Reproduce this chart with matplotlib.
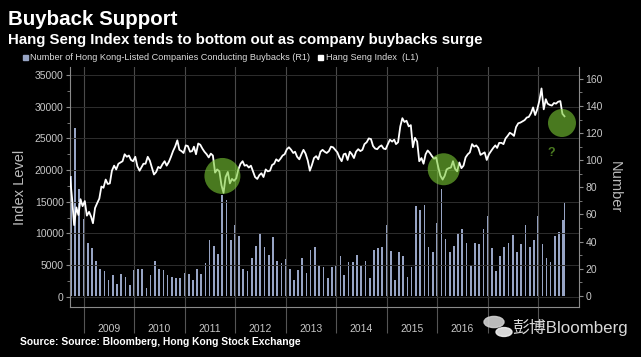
import matplotlib
matplotlib.use("Agg")
import matplotlib.pyplot as plt
import matplotlib.dates as mdates
from matplotlib.ticker import MultipleLocator, FuncFormatter
from matplotlib.patches import Rectangle, Circle
import pandas as pd

# Number of HK-listed companies conducting buybacks, monthly (Sep 2008 - Jun 2018) + partial Jul 2018
buybacks = [
    88, 124, 79, 57,                                      # 2008 Sep-Dec
    39, 35, 26, 20, 18, 11.5, 15, 9, 16, 14, 8, 19,       # 2009
    20, 20, 6, 15, 26, 20, 19, 15, 14, 13, 13, 17,        # 2010
    16, 11.5, 20, 16, 24, 41, 37, 31, 74, 71, 41, 52,     # 2011
    44, 20, 18, 28, 37, 46, 36, 30, 43, 26, 24, 27,       # 2012
    20, 11.5, 19, 28, 16.5, 34, 36, 23, 21, 13, 21, 23,   # 2013
    29, 15, 25, 25, 30, 22, 26, 13, 34, 35, 36, 52,       # 2014
    33, 11.5, 32, 29, 14, 21, 66, 63, 67, 36, 32, 54,     # 2015
    79, 42, 32, 37, 46, 49, 39, 23, 39, 38, 49, 59,       # 2016
    35, 18, 29, 36, 39, 45, 32, 38, 52, 36, 41, 59,       # 2017
    38, 28, 25, 44, 47, 56,                               # 2018 Jan-Jun
    69,                                                   # 2018 Jul (partial)
]
buyback_dates = list(pd.date_range("2008-09-30", "2018-06-30", freq="ME")) + [pd.Timestamp("2018-07-10")]

# Hang Seng Index, sampled twice a month (9th / 24th)
hsi = [
    18900, 15500, 11300, 14100, 12900, 15400, 14300,
    15100, 12800, 13400, 12600, 11600, 14000, 14800, 15500, 17400, 17200, 18500, 17800,
    17900, 19900, 20700, 20100, 21000, 21200, 21400, 22500, 22100, 22300, 21600, 21400,
    22100, 20600, 19900, 20500, 21000, 21000, 22100, 21500, 20400, 19300, 19700, 20500,
    20300, 20900, 21400, 20700, 21300, 22100, 23000, 23700, 24700, 23200, 23000, 22700,
    23900, 23800, 22900, 23000, 23700, 22500, 24200, 24000, 23400, 22900, 22500, 22000,
    22600, 22300, 19600, 20100, 19800, 17600, 16400, 18900, 19700, 17900, 18600, 18300,
    18700, 20100, 21000, 21400, 20700, 20800, 20400, 20700, 19800, 18900, 18600, 19200,
    19500, 18900, 20100, 19800, 19900, 20800, 21000, 21700, 21400, 21800, 22300, 22500,
    23300, 23600, 23200, 22700, 22900, 22100, 21700, 22500, 23200, 22600, 21500, 19900,
    20800, 21900, 22200, 21700, 22900, 23200, 22900, 22700, 23000, 23700, 23600, 23200,
    22800, 22000, 21400, 22500, 22600, 21600, 22900, 22500, 21900, 22900, 23300, 23000,
    23200, 24100, 24400, 25000, 24900, 23800, 23400, 23300, 23700, 23900, 23400, 23300,
    24100, 24800, 24500, 24800, 24100, 24400, 26900, 28200, 27600, 27800, 26900, 27100,
    23600, 25100, 24500, 21400, 21900, 21000, 22500, 23100, 22700, 22200, 21800, 22000,
    20400, 19100, 18500, 19100, 20100, 20300, 20400, 21400, 20200, 19800, 21200, 20300,
    20700, 22000, 22500, 22800, 24100, 23700, 23900, 23500, 22400, 22600, 22800, 21600,
    22500, 23000, 23500, 23900, 23500, 24300, 24300, 24100, 25000, 25400, 25900, 25700,
    25400, 26800, 27400, 27500, 27700, 27900, 28300, 28400, 29000, 29900, 28700, 29600,
    31000, 32900, 29600, 31200, 30500, 30300, 30200, 30600, 30500, 30800, 30900, 28900,
    28500,
]
hsi_dates = [pd.Timestamp("2008-09-24")]
for p in pd.period_range("2008-10", "2018-06", freq="M"):
    for d in (9, 24):
        hsi_dates.append(pd.Timestamp(p.year, p.month, d))
hsi_dates.append(pd.Timestamp("2018-07-09"))

# highlighted bottoms (green circles)
circle_dates = [pd.Timestamp("2011-10-01"), pd.Timestamp("2016-02-17"), pd.Timestamp("2018-06-21")]
circle_levels = [19070, 20130, 27440]
circle_radius_px = [18, 16, 14]

# year labels hidden behind the watermark in the original
last_labelled_year = 2016

bar_color = "#97a4c4"
tick_color = "#c8c8c8"
spine_color = "#8a8a8a"

fig = plt.figure(figsize=(6.41, 3.57), dpi=100, facecolor="black")
ax = fig.add_axes([70 / 641, 50 / 357, 509 / 641, 240 / 357])
ax2 = ax.twinx()

ax2.bar(mdates.date2num(buyback_dates), buybacks, width=12, color=bar_color, linewidth=0)
ax.plot(mdates.date2num(hsi_dates), hsi, color="white", lw=1.3, zorder=3)
ax.scatter(mdates.date2num(circle_dates), circle_levels,
           s=[(2 * r * 0.72) ** 2 for r in circle_radius_px],
           color="#7bcb35", alpha=0.6, linewidths=0, zorder=4)
ax.text(mdates.date2num(pd.Timestamp("2018-04-08")), 22700, "?", color="#4a7a20",
        fontsize=9, fontweight="bold", ha="center", va="center", family="Liberation Sans")

ax.set_zorder(ax2.get_zorder() + 1)
ax.patch.set_visible(False)

ax.set_xlim(mdates.date2num(pd.Timestamp("2008-09-24")), mdates.date2num(pd.Timestamp("2018-10-22")))
ax.set_ylim(-1640, 36290)
ax2.set_ylim(-8.3, 168.8)

# axes styling
for a in (ax, ax2):
    for s in a.spines.values():
        s.set_color(spine_color)
        s.set_linewidth(0.8)
    a.spines["top"].set_visible(False)
ax.spines["right"].set_visible(False)
ax2.spines["left"].set_visible(False)
ax2.spines["bottom"].set_visible(False)

ax.yaxis.set_major_locator(MultipleLocator(5000))
ax.yaxis.set_minor_locator(MultipleLocator(2500))
ax2.yaxis.set_major_locator(MultipleLocator(20))
ax2.yaxis.set_minor_locator(MultipleLocator(10))
for a in (ax, ax2):
    a.tick_params(axis="y", which="major", colors=spine_color, labelcolor=tick_color,
                  labelsize=7.5, length=3, width=0.8, pad=1.5)
    a.tick_params(axis="y", which="minor", colors=spine_color, length=2, width=0.6)
    for lbl in a.get_yticklabels():
        lbl.set_family("Liberation Sans")


def year_label(x, pos):
    year = mdates.num2date(x).year
    return str(year) if year <= last_labelled_year else ""


ax.xaxis.set_major_locator(mdates.YearLocator())
ax.xaxis.set_major_formatter(plt.NullFormatter())
ax.xaxis.set_minor_locator(mdates.MonthLocator(bymonth=7))
ax.xaxis.set_minor_formatter(FuncFormatter(year_label))
ax.tick_params(axis="x", which="major", colors="#555555", length=19, width=0.8)
ax.tick_params(axis="x", which="minor", length=0, labelcolor=tick_color, labelsize=7.5, pad=12)
for lbl in ax.get_xticklabels(minor=True):
    lbl.set_family("Liberation Sans")

ax.grid(axis="x", which="major", color="#4a4a4a", lw=0.8)
ax.grid(axis="y", which="major", color="#2e2e2e", lw=0.7)

ax.set_ylabel("Index Level", color="#bbbbbb", fontsize=10.5, family="Liberation Sans", labelpad=6)
ax2.set_ylabel("Number", color="#bbbbbb", fontsize=10.5, family="Liberation Sans",
               rotation=270, labelpad=14)

# titles
fig.text(8 / 641, 1 - 25 / 357, "Buyback Support", color="white", fontsize=14.8,
         fontweight="bold", family="Liberation Sans", va="baseline")
fig.text(8 / 641, 1 - 44 / 357, "Hang Seng Index tends to bottom out as company buybacks surge",
         color="white", fontsize=10.8, fontweight="bold", family="Liberation Sans", va="baseline")

# legend
fig.patches.append(Rectangle((23 / 641, 1 - 60 / 357), 5 / 641, 5 / 357, transform=fig.transFigure,
                             color=bar_color, figure=fig))
fig.text(30 / 641, 1 - 57.5 / 357, "Number of Hong Kong-Listed Companies Conducting Buybacks (R1)",
         color="#dddddd", fontsize=6.6, family="Liberation Sans", va="center")
fig.patches.append(Rectangle((318 / 641, 1 - 60 / 357), 5 / 641, 5 / 357, transform=fig.transFigure,
                             color="white", figure=fig))
fig.text(326 / 641, 1 - 57.5 / 357, "Hang Seng Index  (L1)",
         color="#dddddd", fontsize=6.6, family="Liberation Sans", va="center")

# source
fig.text(20 / 641, 1 - 345 / 357, "Source: Source: Bloomberg, Hong Kong Stock Exchange",
         color="white", fontsize=7.4, fontweight="bold", family="Liberation Sans", va="baseline")

# watermark (chat-bubble icon + text)
fig.patches.append(Circle((494 / 641, 1 - 322 / 357), 10 / 641, transform=fig.transFigure,
                          color="#d0d0d0", alpha=0.9, figure=fig))
fig.patches.append(Circle((504 / 641, 1 - 332 / 357), 8 / 641, transform=fig.transFigure,
                          color="#f0f0f0", alpha=0.9, figure=fig))
fig.text(512 / 641, 1 - 328 / 357, "彭博Bloomberg", color="white", alpha=0.85, fontsize=12.2,
         family=["Liberation Sans", "Noto Sans CJK SC"], va="center")

fig.savefig("out.png", dpi=100, facecolor="black")
